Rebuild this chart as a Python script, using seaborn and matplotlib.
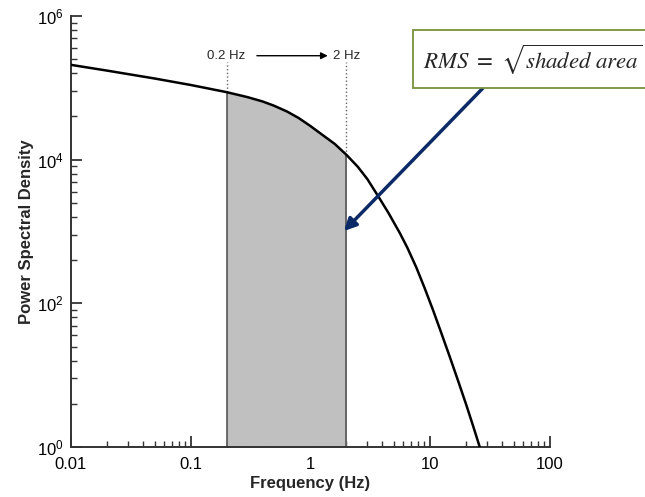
import matplotlib
matplotlib.use("Agg")
import matplotlib.pyplot as plt
import matplotlib.ticker as mticker
from matplotlib.patches import Rectangle
import seaborn as sns
import pandas as pd
import numpy as np

# values (log-log curve)
freq = [0.01, 0.02, 0.05, 0.1, 0.2, 0.3, 0.4, 0.5, 0.64, 0.8, 1.0, 1.3, 1.6,
        2.0, 2.5, 3.0, 3.7, 4.5, 5.6, 6.5, 7.7, 9.0, 10.6, 12.5, 14.7, 17.3,
        20.2, 23.0, 26.1]
psd_log = [5.32, 5.24, 5.13, 5.04, 4.94, 4.87, 4.81, 4.75, 4.67, 4.58, 4.47,
           4.33, 4.22, 4.07, 3.90, 3.73, 3.49, 3.26, 2.98, 2.77, 2.50, 2.22,
           1.91, 1.58, 1.25, 0.91, 0.58, 0.29, 0.0]
band = [0.2, 2.0]
x_ticks = [0.01, 0.1, 1, 10, 100]
y_ticks = [1, 1e2, 1e4, 1e6]

df = pd.DataFrame({'freq': freq, 'psd': 10 ** np.array(psd_log)})

sns.set_style("ticks")
plt.rcParams['font.family'] = ['Liberation Sans', 'DejaVu Sans']
plt.rcParams['mathtext.fontset'] = 'custom'
plt.rcParams['mathtext.rm'] = 'Liberation Sans'

fig = plt.figure(figsize=(6.45, 4.97), dpi=100)
ax = fig.add_axes([0.110, 0.1006, 0.742, 0.8672])

# shaded band
inband = df[(df.freq >= band[0]) & (df.freq <= band[1])]
ax.fill_between(inband.freq, 1, inband.psd, color='#c0c0c0', lw=0, zorder=1)

sns.lineplot(data=df, x='freq', y='psd', color='black', lw=1.8, ax=ax, zorder=3)

for b in band:
    top = df.loc[df.freq == b, 'psd'].iloc[0]
    ax.plot([b, b], [1, top], color='#555555', lw=1.2, zorder=2)
    ax.plot([b, b], [top, 2.3e5], color='#666666', lw=1.0, ls=':', zorder=2)

ax.text(band[0], 2.8e5, '0.2 Hz', ha='center', va='center', fontsize=9.5)
ax.text(band[1], 2.8e5, '2 Hz', ha='center', va='center', fontsize=9.5)
ax.annotate('', xy=(1.40, 2.8e5), xytext=(0.358, 2.8e5),
            arrowprops=dict(arrowstyle='-|>', color='black', lw=1.0,
                            mutation_scale=10, shrinkA=0, shrinkB=0))

ax.set_xscale('log')
ax.set_yscale('log')
ax.set_xlim(0.01, 100)
ax.set_ylim(1, 1e6)

ax.set_xticks(x_ticks)
ax.xaxis.set_major_formatter(mticker.FuncFormatter(lambda v, p: '%g' % v))
ax.xaxis.set_minor_locator(mticker.LogLocator(base=10, subs=np.arange(2, 10)))
ax.set_yticks(y_ticks)
ax.yaxis.set_major_formatter(mticker.LogFormatterSciNotation())
ax.yaxis.set_minor_locator(mticker.FixedLocator(
    [k ** 2 * 100 ** m for m in range(3) for k in range(2, 10)]))
ax.yaxis.set_minor_formatter(mticker.NullFormatter())

ax.tick_params(which='both', direction='in', colors='#333333', labelcolor='black')
ax.tick_params(which='major', length=8, width=1.3, labelsize=12)
ax.tick_params(axis='x', which='major', pad=7)
ax.tick_params(axis='y', which='major', pad=5)
ax.tick_params(which='minor', length=4, width=1.0)
for s in ['top', 'right']:
    ax.spines[s].set_visible(False)
for s in ['left', 'bottom']:
    ax.spines[s].set_linewidth(1.4)
    ax.spines[s].set_color('#333333')

ax.set_xlabel('Frequency (Hz)', fontsize=12, fontweight='bold', labelpad=3)
ax.set_ylabel('Power Spectral Density', fontsize=12, fontweight='bold', labelpad=2)

# formula box
fig.patches.append(Rectangle((413 / 645, 1 - 88 / 497), 0.4, 58 / 497,
                             transform=fig.transFigure, facecolor='white',
                             edgecolor='#76923c', lw=1.3, zorder=5))
fig.text(423 / 645, 1 - 60 / 497, r'$RMS\ =\ \sqrt{shaded\ area}$',
         fontsize=16.5, va='center', ha='left', zorder=6,
         math_fontfamily='stix')

ax.annotate('', xy=(344 / 645, 1 - 231 / 497), xytext=(483 / 645, 1 - 88 / 497),
            xycoords='figure fraction', textcoords='figure fraction',
            arrowprops=dict(arrowstyle='-|>', color='#0b2a66', lw=2.5,
                            mutation_scale=18, shrinkA=0, shrinkB=0),
            zorder=7)

fig.savefig('out.png', dpi=100)
